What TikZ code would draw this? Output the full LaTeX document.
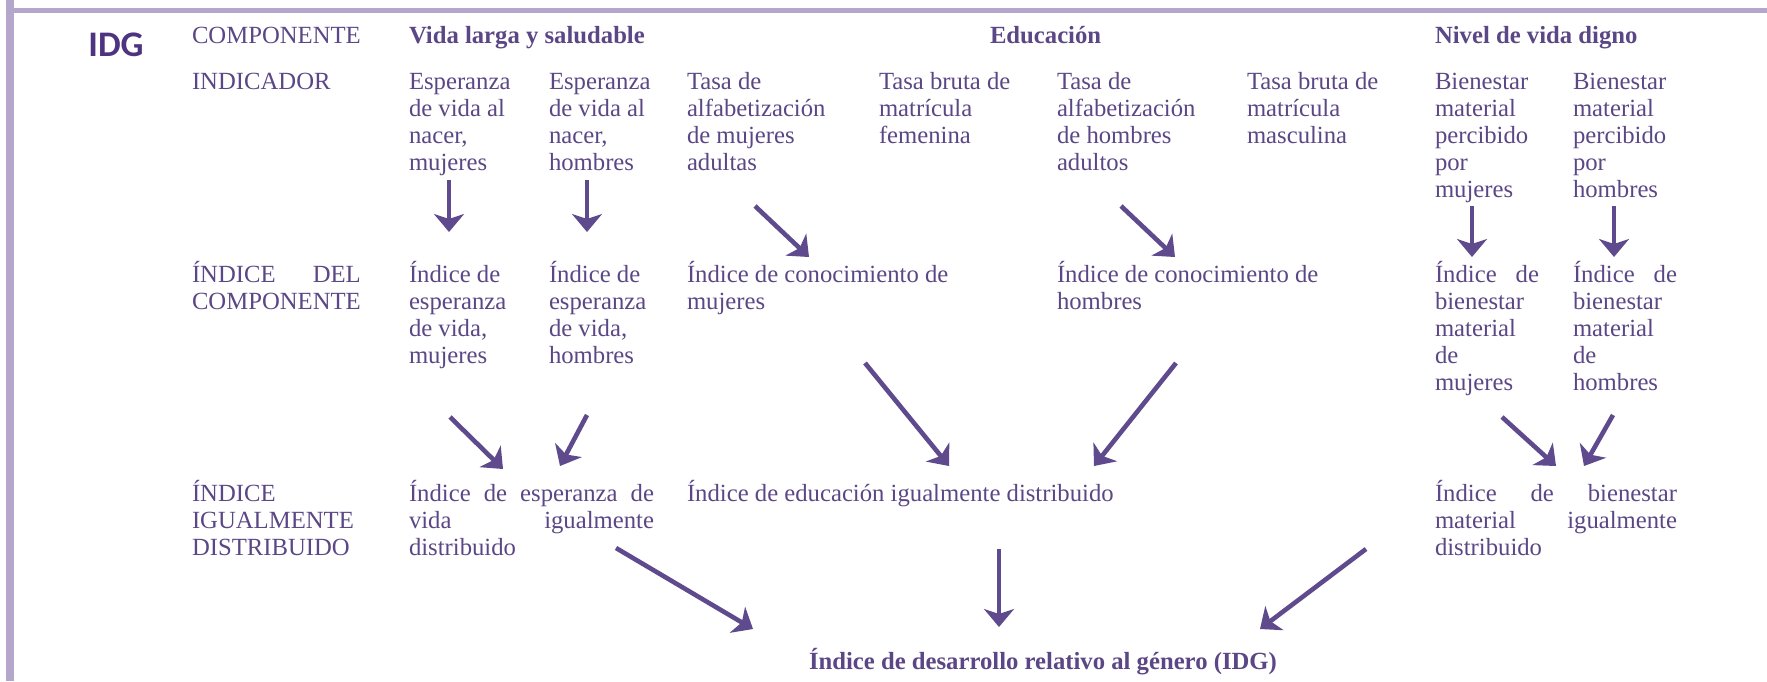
\documentclass[tikz,border=0pt]{standalone}
\usepackage{fontspec}
\setmainfont{Liberation Serif}
\newfontfamily\idgfont{Carlito}
\usepackage{calc}
\usetikzlibrary{arrows.meta}
\definecolor{framec}{HTML}{B5A6CC}
\definecolor{txt}{HTML}{5B4785}
\definecolor{idgc}{HTML}{4E3480}
\definecolor{arrc}{HTML}{5E4A8C}
\newcommand\tb[1]{\begin{tabular}[t]{@{}l@{}}#1\end{tabular}}
\begin{document}
\begin{tikzpicture}[x=0.5pt,y=-0.5pt,
  lbl/.style={anchor=base west, inner sep=0pt, outer sep=0pt, text=txt, font=\fontsize{12.35}{13.6}\selectfont},
  hdr/.style={lbl, font=\fontsize{12.35}{13.6}\selectfont\bfseries},
  conn/.style={draw=arrc, line width=2.3pt, -{Stealth[length=9pt,width=15pt,inset=2.5pt]}}]
\path[use as bounding box] (0,0) rectangle (1767,681);
% frame
\fill[framec] (6,0) rectangle (14,681);
\fill[framec] (6,8) rectangle (1767,13);
% title
\node[anchor=base west, inner sep=0pt, text=idgc, font=\idgfont\bfseries\fontsize{18}{20}\selectfont] (idg) at (88,56) {IDG};
% row labels
\node[lbl] (lcomp) at (192,43) {COMPONENTE};
\node[lbl] (lind) at (192,89) {INDICADOR};
\node[lbl] (lidc) at (192,282) {\tb{\makebox[\widthof{COMPONENTE}][s]{ÍNDICE DEL}\\COMPONENTE}};
\node[lbl] (lidd) at (192,501) {\tb{ÍNDICE\\IGUALMENTE\\DISTRIBUIDO}};
% headers
\node[hdr] (hvida) at (409,43) {Vida larga y saludable};
\node[hdr] (hedu) at (990,43) {Educación};
\node[hdr] (hniv) at (1435,43) {Nivel de vida digno};
% indicators
\node[lbl] (i1) at (409,89) {\tb{Esperanza\\de vida al\\nacer,\\mujeres}};
\node[lbl] (i2) at (549,89) {\tb{Esperanza\\de vida al\\nacer,\\hombres}};
\node[lbl] (i3) at (687,89) {\tb{Tasa de\\alfabetización\\de mujeres\\adultas}};
\node[lbl] (i4) at (879,89) {\tb{Tasa bruta de\\matrícula\\femenina}};
\node[lbl] (i5) at (1057,89) {\tb{Tasa de\\alfabetización\\de hombres\\adultos}};
\node[lbl] (i6) at (1247,89) {\tb{Tasa bruta de\\matrícula\\masculina}};
\node[lbl] (i7) at (1435,89) {\tb{Bienestar\\material\\percibido\\por\\mujeres}};
\node[lbl] (i8) at (1573,89) {\tb{Bienestar\\material\\percibido\\por\\hombres}};
% component indices
\node[lbl] (c1) at (409,282) {\tb{Índice de\\esperanza\\de vida,\\mujeres}};
\node[lbl] (c2) at (549,282) {\tb{Índice de\\esperanza\\de vida,\\hombres}};
\node[lbl] (c3) at (687,282) {\tb{Índice de conocimiento de\\mujeres}};
\node[lbl] (c5) at (1057,282) {\tb{Índice de conocimiento de\\hombres}};
\node[lbl] (c7) at (1435,282) {\tb{\makebox[52pt][s]{Índice de}\\bienestar\\material\\de\\mujeres}};
\node[lbl] (c8) at (1573,282) {\tb{\makebox[52pt][s]{Índice de}\\bienestar\\material\\de\\hombres}};
% equally distributed
\node[lbl] (d1) at (409,501) {\tb{\makebox[122.5pt][s]{Índice de esperanza de}\\\makebox[122.5pt][s]{vida igualmente}\\distribuido}};
\node[lbl] (d3) at (687,501) {Índice de educación igualmente distribuido};
\node[lbl] (d7) at (1435,501) {\tb{\makebox[121pt][s]{Índice de bienestar}\\\makebox[121pt][s]{material igualmente}\\distribuido}};
% final
\node[hdr] (fin) at (809,669) {Índice de desarrollo relativo al género (IDG)};
% arrow end points
\coordinate (a1s) at (449,180); \coordinate (a1e) at (449,232);
\coordinate (a2s) at (587,180); \coordinate (a2e) at (587,232);
\coordinate (a3s) at (755,206); \coordinate (a3e) at (809,257);
\coordinate (a4s) at (1121,206); \coordinate (a4e) at (1175,257);
\coordinate (a5s) at (1472,206); \coordinate (a5e) at (1472,257);
\coordinate (a6s) at (1614,206); \coordinate (a6e) at (1614,257);
\coordinate (b1s) at (450,417); \coordinate (b1e) at (503,469);
\coordinate (b2s) at (587,415); \coordinate (b2e) at (560,466);
\coordinate (b3s) at (865,363); \coordinate (b3e) at (949,466);
\coordinate (b4s) at (1176,363); \coordinate (b4e) at (1094,466);
\coordinate (b5s) at (1502,417); \coordinate (b5e) at (1556,466);
\coordinate (b6s) at (1613,415); \coordinate (b6e) at (1584,466);
\coordinate (f1s) at (616,548); \coordinate (f1e) at (753,629);
\coordinate (f2s) at (999,549); \coordinate (f2e) at (999,627);
\coordinate (f3s) at (1366,549); \coordinate (f3e) at (1260,629);
% arrows
\draw[conn] (a1s) -- (a1e);
\draw[conn] (a2s) -- (a2e);
\draw[conn] (a3s) -- (a3e);
\draw[conn] (a4s) -- (a4e);
\draw[conn] (a5s) -- (a5e);
\draw[conn] (a6s) -- (a6e);
\draw[conn] (b1s) -- (b1e);
\draw[conn] (b2s) -- (b2e);
\draw[conn] (b3s) -- (b3e);
\draw[conn] (b4s) -- (b4e);
\draw[conn] (b5s) -- (b5e);
\draw[conn] (b6s) -- (b6e);
\draw[conn] (f1s) -- (f1e);
\draw[conn] (f2s) -- (f2e);
\draw[conn] (f3s) -- (f3e);
\end{tikzpicture}
\end{document}
